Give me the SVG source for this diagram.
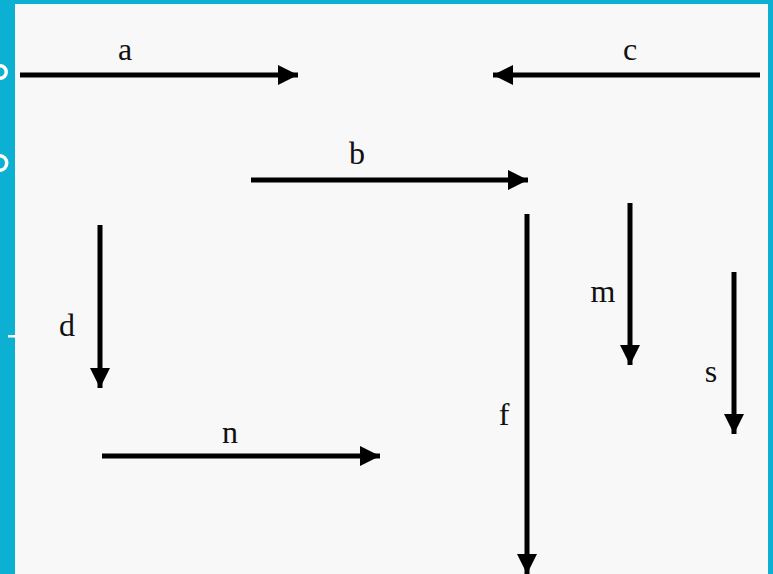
<svg xmlns="http://www.w3.org/2000/svg" width="773" height="574" viewBox="0 0 773 574">
<defs>
<style>
.ln{stroke:#000;stroke-width:5;fill:none}
.lb{font-family:"Liberation Serif","DejaVu Serif",serif;font-size:32px;fill:#111;text-anchor:middle}
</style>
<marker id="ah" markerUnits="userSpaceOnUse" markerWidth="20" markerHeight="20" viewBox="0 0 18 18" refX="18" refY="9" orient="auto">
<path d="M0,0 L18,9 L0,18 Z" fill="#000"/>
</marker>
</defs>
<rect x="0" y="0" width="773" height="574" fill="#0bb0d2"/>
<rect x="15" y="4" width="753" height="570" fill="#f8f8f9"/>
<g id="edge-marks" fill="#fff">
<path d="M0,64 A8,8 0 0 1 0,80 L0,76.5 A4.5,4.5 0 0 0 0,67.5 Z"/>
<path d="M0,154 A8.5,9 0 0 1 0,172 L0,168.5 A5,5.5 0 0 0 0,157.5 Z"/>
<rect x="8" y="335" width="7" height="2.5"/>
</g>
<g id="connectors">
<line id="a" class="ln" x1="20" y1="75" x2="298" y2="75" marker-end="url(#ah)"/>
<line id="c" class="ln" x1="760" y1="75" x2="493" y2="75" marker-end="url(#ah)"/>
<line id="b" class="ln" x1="251" y1="180" x2="528" y2="180" marker-end="url(#ah)"/>
<line id="d" class="ln" x1="100" y1="225" x2="100" y2="388" marker-end="url(#ah)"/>
<line id="n" class="ln" x1="102" y1="456" x2="380" y2="456" marker-end="url(#ah)"/>
<line id="f" class="ln" x1="527" y1="214" x2="527" y2="574" marker-end="url(#ah)"/>
<line id="m" class="ln" x1="630" y1="203" x2="630" y2="365" marker-end="url(#ah)"/>
<line id="s" class="ln" x1="734" y1="272" x2="734" y2="434" marker-end="url(#ah)"/>
</g>
<g id="labels">
<text class="lb" x="125" y="60">a</text>
<text class="lb" x="630" y="60">c</text>
<text class="lb" x="357" y="164">b</text>
<text class="lb" x="67" y="336">d</text>
<text class="lb" x="230" y="443">n</text>
<text class="lb" x="504" y="425">f</text>
<text class="lb" x="603" y="302">m</text>
<text class="lb" x="711" y="382">s</text>
</g>
</svg>
